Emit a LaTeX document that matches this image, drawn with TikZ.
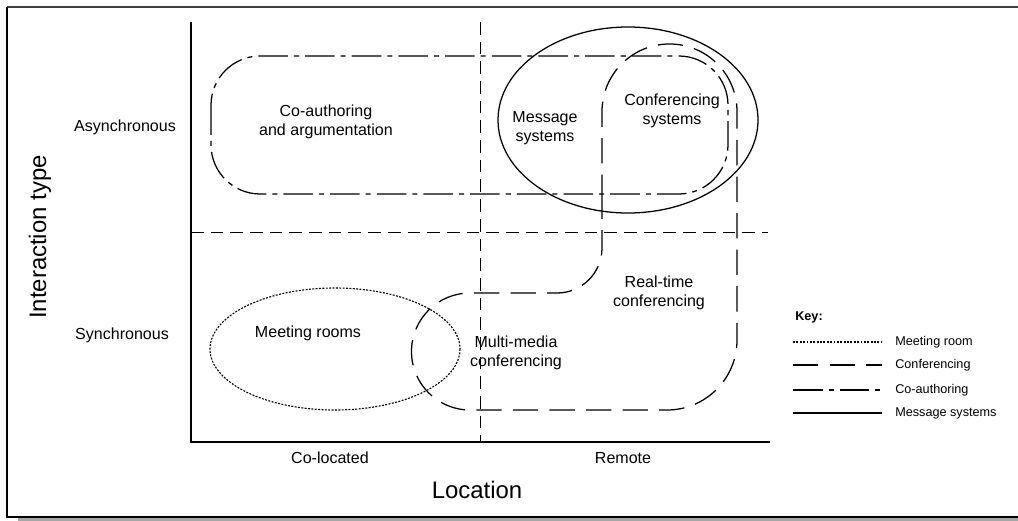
\documentclass[tikz,border=0pt]{standalone}
\usepackage{fontspec}
\setmainfont{Liberation Sans}
\begin{document}
\begin{tikzpicture}[x=0.025cm,y=-0.025cm,
  lbl/.style={font=\fontsize{11.4}{13.6}\selectfont, align=center, inner sep=0pt},
  big/.style={font=\fontsize{17}{20}\selectfont, inner sep=0pt},
  keytxt/.style={font=\fontsize{9}{11}\selectfont, anchor=west, inner sep=0pt},
  axisline/.style={line width=1.8pt},
  divider/.style={line width=0.5pt, dash pattern=on 9pt off 5pt},
  meetline/.style={line width=0.8pt, dash pattern=on 1.4pt off 1pt},
  confline/.style={line width=0.9pt, dash pattern=on 18pt off 8pt},
  coauthline/.style={line width=0.9pt, dash pattern=on 21pt off 4.3pt on 3.6pt off 4.3pt},
  msgline/.style={line width=0.9pt}]
\useasboundingbox (0,0) rectangle (1018,520);

% page frame with a shadow along the bottom
\draw[line width=1.1pt, black!75] (7,7) -- (1018,7);
\draw[line width=0.8pt] (7,7) -- (7,517) -- (1018,517);
\draw[line width=1.5pt, black!35] (18,519.5) -- (1018,519.5);

% axes
\coordinate (origin) at (191,442);
\coordinate (ytop) at (191,22);
\coordinate (xend) at (770,442);
\draw[axisline] (ytop) -- (origin) -- (xend);

% quadrant dividers
\coordinate (vtop) at (480,22);
\coordinate (vbot) at (480,442);
\coordinate (hleft) at (191,232);
\coordinate (hright) at (768,232);
\draw[divider] (vtop) -- (vbot);
\draw[divider] (hleft) -- (hright);

% axis labels
\node[lbl] (async) at (125,127) {Asynchronous};
\node[lbl] (sync) at (122,335) {Synchronous};
\node[big, rotate=90] (itype) at (40,237) {Interaction type};
\node[lbl] (coloc) at (330,458) {Co-located};
\node[lbl] (remote) at (623,458) {Remote};
\node[big] (loc) at (477,490) {Location};

% co-authoring region
\draw[coauthline, rounded corners=35pt] (211,56) rectangle (728,194);

% message systems region
\draw[msgline] (628,120) ellipse [x radius=130, y radius=93];

% meeting rooms region
\draw[meetline] (335,349) ellipse [x radius=125, y radius=61];

% conferencing region
\draw[confline] (602,200) -- (602,111.5) arc[start angle=180, end angle=360, radius=67.5]
  -- (737,340) arc[start angle=0, end angle=90, radius=70]
  -- (470,410) arc[start angle=90, end angle=270, radius=58.5]
  -- (557,293) arc[start angle=90, end angle=0, radius=45]
  -- cycle;

% region labels
\node[lbl] (coauth) at (326,122) {Co-authoring\\and argumentation};
\node[lbl] (msg) at (545,128) {Message\\systems};
\node[lbl] (confsys) at (672,111) {Conferencing\\systems};
\node[lbl] (realtime) at (659,293) {Real-time\\conferencing};
\node[lbl] (multi) at (516,353) {Multi-media\\conferencing};
\node[lbl] (meet) at (308,333) {Meeting rooms};

% key
\node[keytxt, font=\fontsize{9}{11}\selectfont\bfseries] (key) at (795,317) {Key:};
\coordinate (k1a) at (793,342); \coordinate (k1b) at (882,342);
\coordinate (k2a) at (793,365); \coordinate (k2b) at (882,365);
\coordinate (k3a) at (793,390); \coordinate (k3b) at (882,390);
\coordinate (k4a) at (793,413); \coordinate (k4b) at (882,413);
\draw[meetline] (k1a) -- (k1b);
\draw[confline] (k2a) -- (k2b);
\draw[coauthline] (k3a) -- (k3b);
\draw[msgline] (k4a) -- (k4b);
\node[keytxt] (kt1) at (895,342) {Meeting room};
\node[keytxt] (kt2) at (895,365) {Conferencing};
\node[keytxt] (kt3) at (895,390) {Co-authoring};
\node[keytxt] (kt4) at (895,413) {Message systems};
\end{tikzpicture}
\end{document}
